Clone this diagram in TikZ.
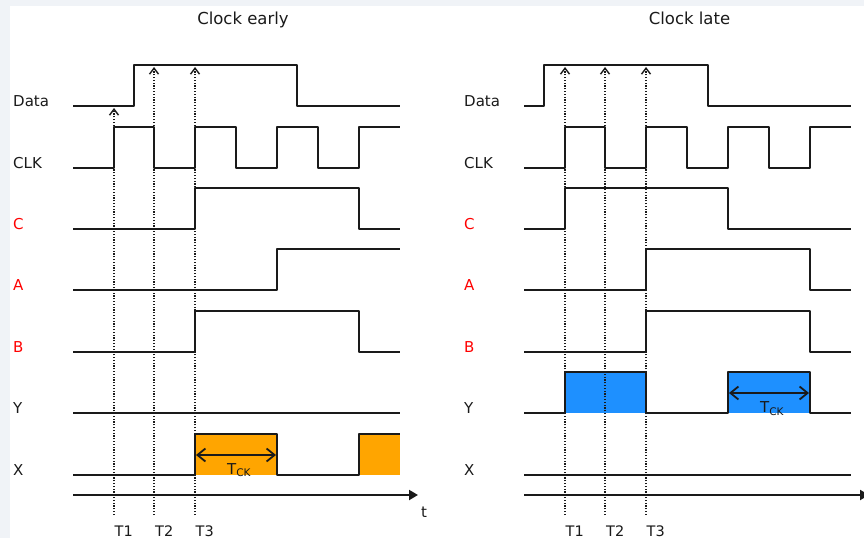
\documentclass[tikz,border=0pt]{standalone}
\usepackage{fontspec}
\setmainfont{DejaVu Sans}
\usetikzlibrary{arrows.meta}
\definecolor{frame}{HTML}{F0F3F7}
\definecolor{ink}{HTML}{1A1A1A}
\definecolor{sigred}{HTML}{FF0000}
\definecolor{xfill}{HTML}{FFA500}
\definecolor{yfill}{HTML}{1E90FF}
\begin{document}
\begin{tikzpicture}[x=1pt,y=-1pt,
  wave/.style={draw=ink, line width=2pt, line join=round},
  guide/.style={draw=ink, line width=1.2pt, dash pattern=on 1.2pt off 1.6pt},
  probe/.style={guide, -{Straight Barb[length=6pt,width=9pt,line width=1.4pt]}},
  period/.style={draw=ink, line width=1.8pt,
    {Straight Barb[length=8pt,width=13pt,line width=1.8pt]}-{Straight Barb[length=8pt,width=13pt,line width=1.8pt]}},
  axis/.style={draw=ink, line width=2pt, -{Triangle[length=9pt,width=10pt]}},
  lbl/.style={font=\fontsize{15}{18}\selectfont, anchor=base west, inner sep=0pt, text=ink},
  redlbl/.style={lbl, text=sigred},
  ttl/.style={font=\fontsize{16.5}{19}\selectfont, anchor=base, inner sep=0pt, text=ink},
  tick/.style={font=\fontsize{14.5}{17}\selectfont, anchor=base west, inner sep=0pt, text=ink},
]
% page and frame
\fill[frame] (0,0) rectangle (864,538);
\fill[white] (10,6) rectangle (864,538);
\useasboundingbox (0,0) rectangle (864,538);

% ---------------- Clock early ----------------
\begin{scope}
  \node[ttl] (titleE) at (243,24) {Clock early};
  \node[lbl] (dataE) at (13,106) {Data};
  \node[lbl] (clkE) at (13,168) {CLK};
  \node[redlbl] (cE) at (13,229) {C};
  \node[redlbl] (aE) at (13,290) {A};
  \node[redlbl] (bE) at (13,352) {B};
  \node[lbl] (yE) at (13,413) {Y};
  \node[lbl] (xE) at (13,475) {X};

  % shaded pulses
  \fill[xfill] (195,434) rectangle (277,475);
  \fill[xfill] (359,434) rectangle (400,475);

  % waveforms
  \draw[wave] (73,106) -- (134,106) -- (134,65) -- (297,65) -- (297,106) -- (400,106);
  \draw[wave] (73,168) -| (114,127) -| (154,168) -| (195,127) -| (236,168)
              -| (277,127) -| (318,168) -| (359,127) -- (400,127);
  \draw[wave] (73,229) -| (195,188) -| (359,229) -- (400,229);
  \draw[wave] (73,290) -| (277,249) -- (400,249);
  \draw[wave] (73,352) -| (195,311) -| (359,352) -- (400,352);
  \draw[wave] (73,413) -- (400,413);
  \draw[wave] (73,475) -| (195,434) -| (277,475) -| (359,434) -- (400,434);

  % sampling instants
  \coordinate (e1b) at (114,515); \coordinate (e1t) at (114,108);
  \coordinate (e2b) at (154,515); \coordinate (e2t) at (154,67);
  \coordinate (e3b) at (195,515); \coordinate (e3t) at (195,67);
  \draw[probe] (e1b) -- (e1t);
  \draw[probe] (e2b) -- (e2t);
  \draw[probe] (e3b) -- (e3t);
  \node[tick] (t1E) at (114.5,536) {T1};
  \node[tick] (t2E) at (155,536) {T2};
  \node[tick] (t3E) at (195.5,536) {T3};

  % clock period
  \coordinate (pE1) at (196,455); \coordinate (pE2) at (276,455);
  \draw[period] (pE1) -- (pE2);
  \node[lbl] (tckE) at (227,474) {T\textsubscript{CK}};

  % time axis
  \coordinate (axE0) at (73,495); \coordinate (axE1) at (418,495);
  \draw[axis] (axE0) -- (axE1);
  \node[lbl] (tE) at (421,517) {t};
\end{scope}

% ---------------- Clock late ----------------
\begin{scope}[xshift=451pt]
  \node[ttl] (titleL) at (238.5,24) {Clock late};
  \node[lbl] (dataL) at (13,106) {Data};
  \node[lbl] (clkL) at (13,168) {CLK};
  \node[redlbl] (cL) at (13,229) {C};
  \node[redlbl] (aL) at (13,290) {A};
  \node[redlbl] (bL) at (13,352) {B};
  \node[lbl] (yL) at (13,413) {Y};
  \node[lbl] (xL) at (13,475) {X};

  % shaded pulses
  \fill[yfill] (114,372) rectangle (195,413);
  \fill[yfill] (277,372) rectangle (359,413);

  % waveforms
  \draw[wave] (73,106) -- (93,106) -- (93,65) -- (257,65) -- (257,106) -- (400,106);
  \draw[wave] (73,168) -| (114,127) -| (154,168) -| (195,127) -| (236,168)
              -| (277,127) -| (318,168) -| (359,127) -- (400,127);
  \draw[wave] (73,229) -| (114,188) -| (277,229) -- (400,229);
  \draw[wave] (73,290) -| (195,249) -| (359,290) -- (400,290);
  \draw[wave] (73,352) -| (195,311) -| (359,352) -- (400,352);
  \draw[wave] (73,413) -| (114,372) -| (195,413) -| (277,372) -| (359,413) -- (400,413);
  \draw[wave] (73,475) -- (400,475);

  % sampling instants
  \coordinate (l1b) at (114,515); \coordinate (l1t) at (114,67);
  \coordinate (l2b) at (154,515); \coordinate (l2t) at (154,67);
  \coordinate (l3b) at (195,515); \coordinate (l3t) at (195,67);
  \draw[probe] (l1b) -- (l1t);
  \draw[probe] (l2b) -- (l2t);
  \draw[probe] (l3b) -- (l3t);
  \node[tick] (t1L) at (114.5,536) {T1};
  \node[tick] (t2L) at (155,536) {T2};
  \node[tick] (t3L) at (195.5,536) {T3};

  % clock period
  \coordinate (pL1) at (278,393); \coordinate (pL2) at (358,393);
  \draw[period] (pL1) -- (pL2);
  \node[lbl] (tckL) at (309,412.5) {T\textsubscript{CK}};

  % time axis
  \coordinate (axL0) at (73,495); \coordinate (axL1) at (418,495);
  \draw[axis] (axL0) -- (axL1);
\end{scope}
\end{tikzpicture}
\end{document}
